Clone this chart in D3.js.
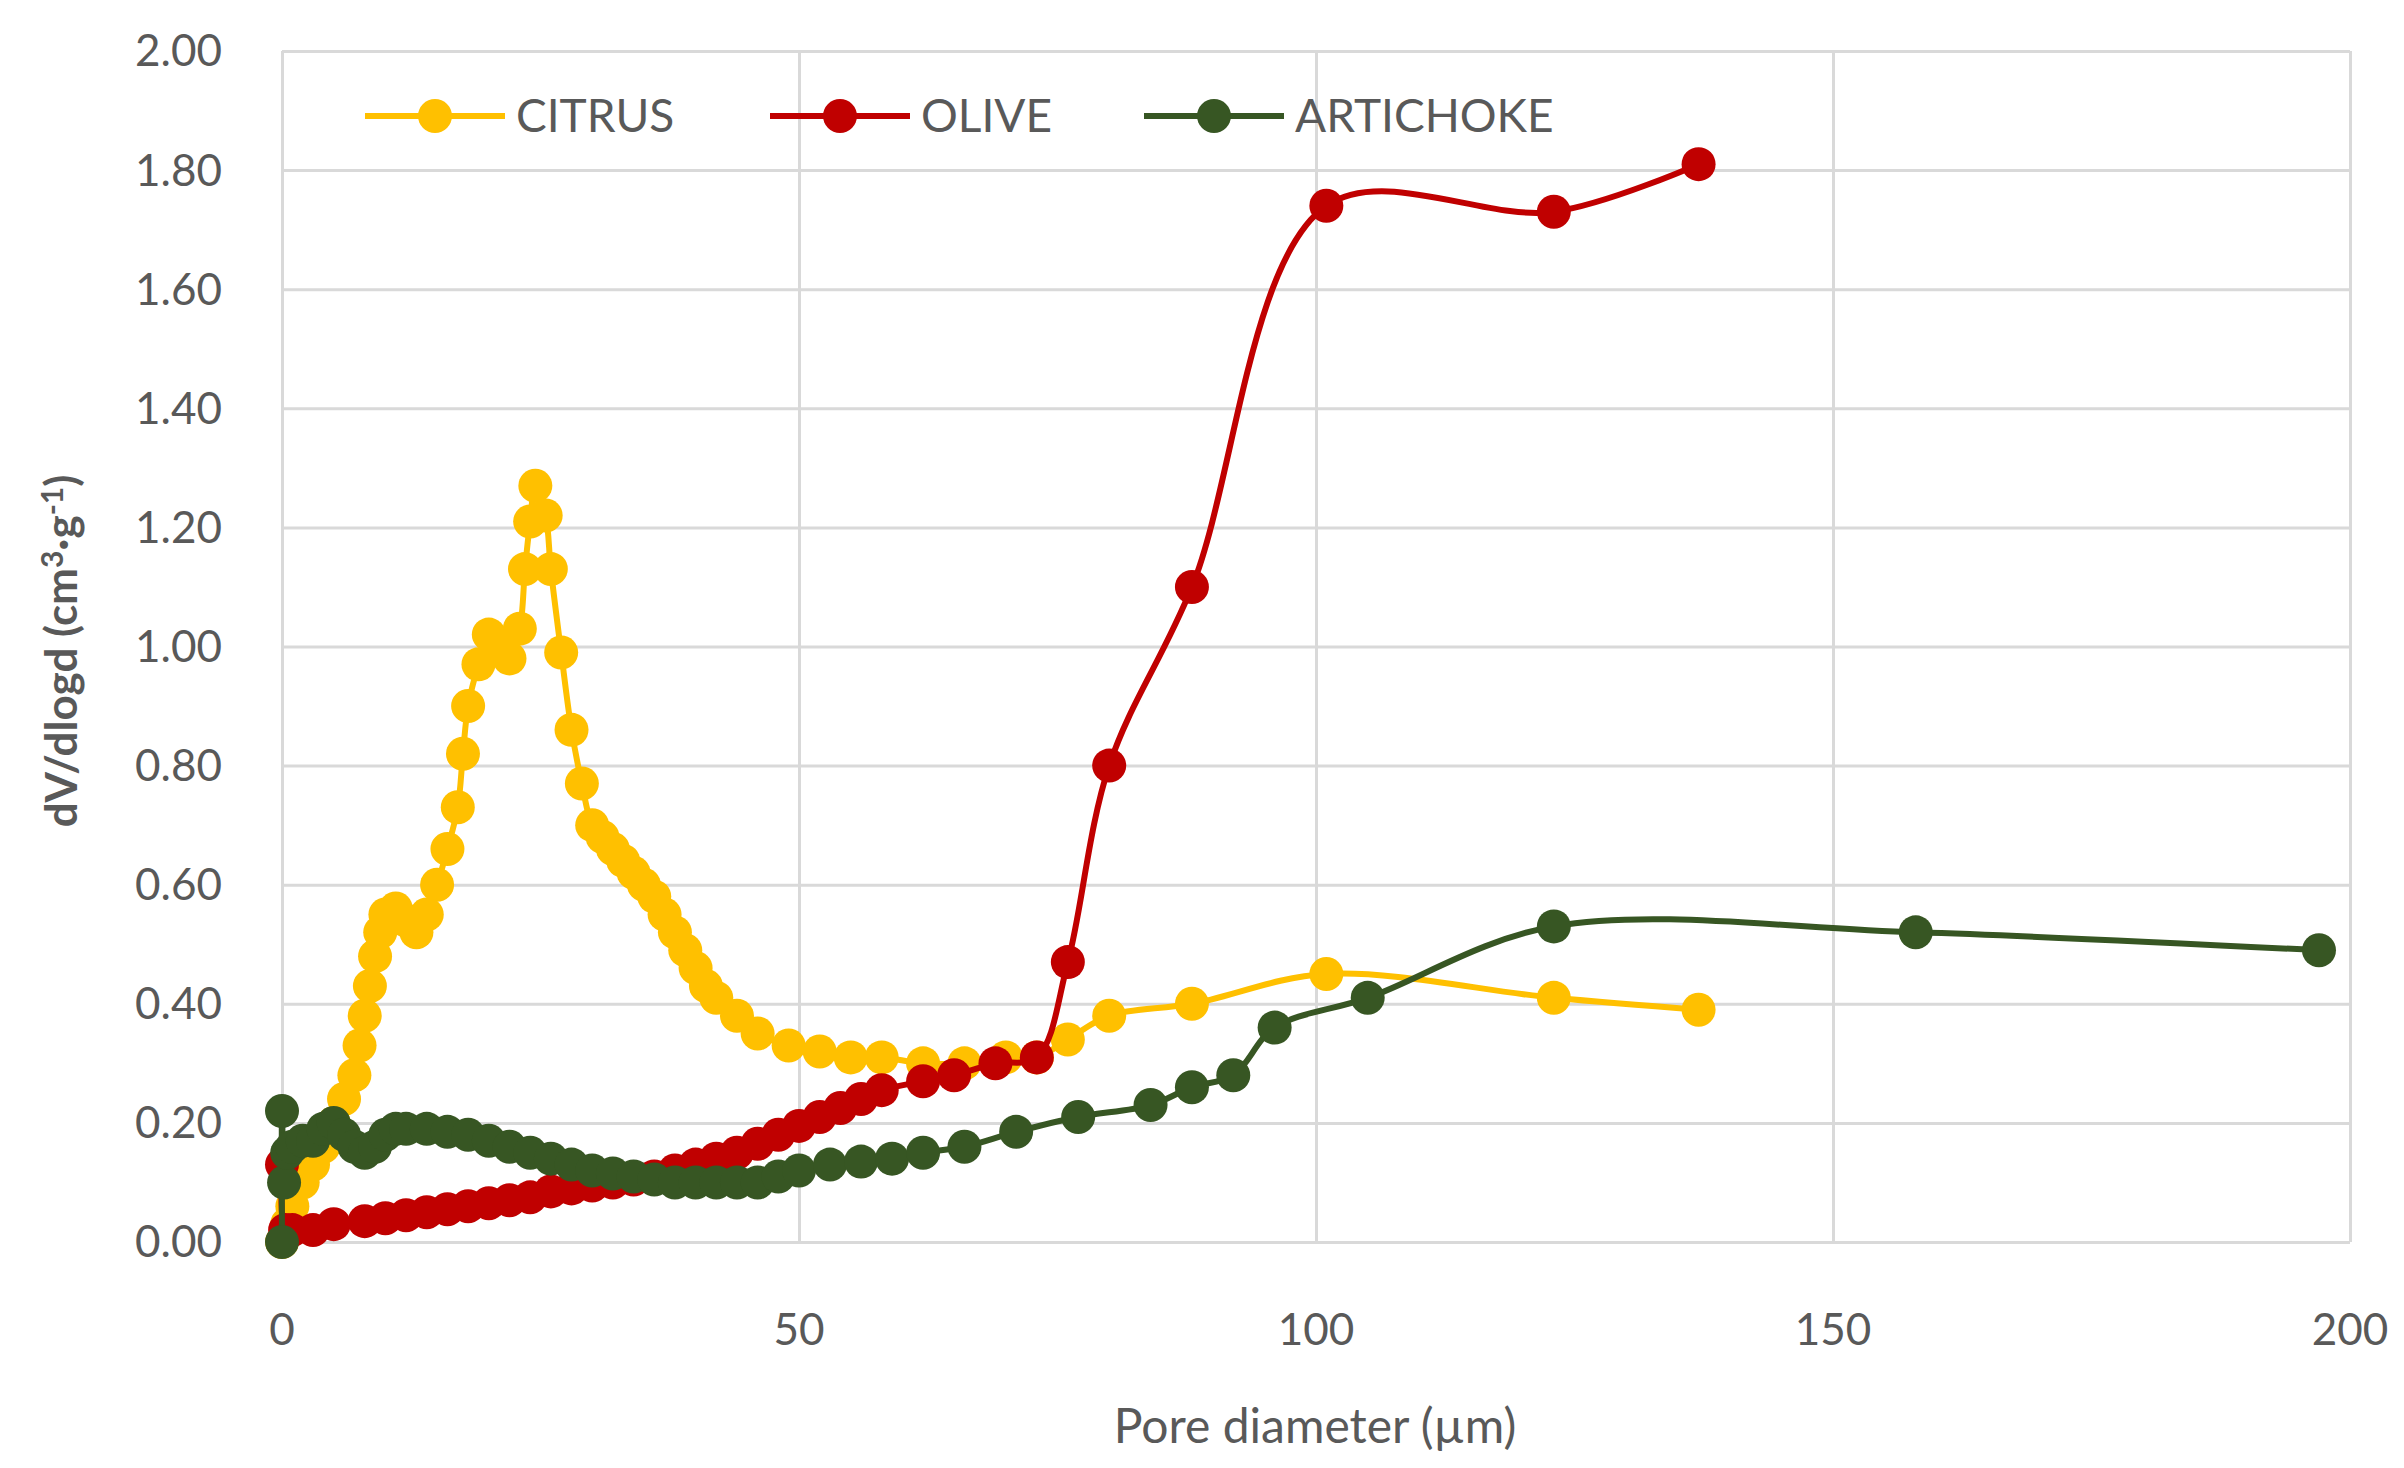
<!DOCTYPE html>
<html>
<head>
<meta charset="utf-8">
<script src="https://cdn.jsdelivr.net/npm/d3@7"></script>
<style>
  body { margin: 0; background: #fff; }
  text { font-family: Lato, "Open Sans", sans-serif; fill: #595959; }
</style>
</head>
<body>
<svg id="chart" width="2404" height="1468"></svg>
<script>
// data
const citrusX = [0,0.5,1,2,3,4,5,6,7,7.5,8,8.5,9,9.5,10,11,12,13,14,15,16,17,17.5,18,19,20,21,22,23,23.5,24,24.5,25.5,26,27,28,29,30,31,32,33,34,35,36,37,38,39,40,41,42,44,46,49,52,55,58,62,66,70,73,76,80,88,101,123,137];
const citrusY = [0,0.03,0.06,0.1,0.13,0.16,0.2,0.24,0.28,0.33,0.38,0.43,0.48,0.52,0.55,0.56,0.54,0.52,0.55,0.6,0.66,0.73,0.82,0.9,0.97,1.02,1.0,0.98,1.03,1.13,1.21,1.27,1.22,1.13,0.99,0.86,0.77,0.7,0.68,0.66,0.64,0.62,0.6,0.58,0.55,0.52,0.49,0.46,0.43,0.41,0.38,0.35,0.33,0.32,0.31,0.31,0.3,0.3,0.31,0.31,0.34,0.38,0.40,0.45,0.41,0.39];
const oliveX = [0,0.3,1,3,5,8,10,12,14,16,18,20,22,24,26,28,30,32,34,36,38,40,42,44,46,48,50,52,54,56,58,62,65,69,73,76,80,88,101,123,137];
const oliveY = [0.13,0.02,0.02,0.02,0.03,0.035,0.04,0.045,0.05,0.055,0.06,0.065,0.07,0.075,0.085,0.09,0.095,0.1,0.105,0.11,0.12,0.13,0.14,0.15,0.165,0.18,0.195,0.21,0.225,0.24,0.255,0.27,0.28,0.3,0.31,0.47,0.80,1.10,1.74,1.73,1.81];
const artiX = [0,0,0.2,0.5,1,2,3,4,5,6,7,8,9,10,11,12,14,16,18,20,22,24,26,28,30,32,34,36,38,40,42,44,46,48,50,53,56,59,62,66,71,77,84,88,92,96,105,123,158,197];
const artiY = [0,0.22,0.1,0.15,0.16,0.17,0.17,0.19,0.2,0.18,0.16,0.15,0.16,0.18,0.19,0.19,0.19,0.185,0.18,0.17,0.16,0.15,0.14,0.13,0.12,0.115,0.11,0.105,0.1,0.1,0.1,0.1,0.1,0.11,0.12,0.13,0.135,0.14,0.15,0.16,0.185,0.21,0.23,0.26,0.28,0.36,0.41,0.53,0.52,0.49];
const seriesNames = ['CITRUS', 'OLIVE', 'ARTICHOKE'];
const seriesColors = ['#FFC000', '#C00000', '#375623'];
const xTicks = [0, 50, 100, 150, 200];
const yTicks = [0, 0.2, 0.4, 0.6, 0.8, 1.0, 1.2, 1.4, 1.6, 1.8, 2.0];

const series = [
  d3.zip(citrusX, citrusY),
  d3.zip(oliveX, oliveY),
  d3.zip(artiX, artiY),
];

const svg = d3.select('#chart');
const plot = { left: 282, right: 2350, top: 51, bottom: 1242 };

const x = d3.scaleLinear().domain([0, 200]).range([plot.left, plot.right]);
const y = d3.scaleLinear().domain([0, 2]).range([plot.bottom, plot.top]);

// gridlines
svg.append('g')
  .attr('transform', `translate(0,${plot.bottom})`)
  .call(d3.axisBottom(x).tickValues(xTicks).tickSize(-(plot.bottom - plot.top)).tickFormat(''))
  .call(g => g.select('.domain').remove())
  .selectAll('line').attr('stroke', '#d9d9d9').attr('stroke-width', 3);
svg.append('g')
  .attr('transform', `translate(${plot.left},0)`)
  .call(d3.axisLeft(y).tickValues(yTicks).tickSize(-(plot.right - plot.left)).tickFormat(''))
  .call(g => g.select('.domain').remove())
  .selectAll('line').attr('stroke', '#d9d9d9').attr('stroke-width', 3);

// tick labels
svg.append('g').selectAll('text').data(yTicks).join('text')
  .attr('x', 222).attr('y', d => y(d)).attr('dy', '0.35em')
  .attr('text-anchor', 'end').style('font-size', '44px')
  .text(d => d.toFixed(2));
svg.append('g').selectAll('text').data(xTicks).join('text')
  .attr('x', d => x(d)).attr('y', 1330).attr('dy', '0.35em')
  .attr('text-anchor', 'middle').style('font-size', '44px')
  .text(d => d);

// axis titles
svg.append('text').attr('x', 1315).attr('y', 1426).attr('dy', '0.35em')
  .attr('text-anchor', 'middle').style('font-size', '48px')
  .text('Pore diameter (µm)');
const yt = svg.append('text')
  .attr('transform', 'translate(62,651) rotate(-90)')
  .attr('dy', '0.35em').attr('text-anchor', 'middle')
  .style('font-size', '44px').style('font-weight', 'bold');
yt.append('tspan').text('dV/dlogd (cm');
yt.append('tspan').attr('dy', '-14').style('font-size', '30px').text('3');
yt.append('tspan').attr('dy', '14').text('·g');
yt.append('tspan').attr('dy', '-14').style('font-size', '30px').text('-1');
yt.append('tspan').attr('dy', '14').text(')');

// lines and markers
const line = d3.line().x(d => x(d[0])).y(d => y(d[1])).curve(d3.curveCatmullRom.alpha(0.5));
series.forEach((pts, i) => {
  const g = svg.append('g');
  g.append('path').datum(pts).attr('d', line)
    .attr('fill', 'none').attr('stroke', seriesColors[i]).attr('stroke-width', 6);
  g.selectAll('circle').data(pts).join('circle')
    .attr('cx', d => x(d[0])).attr('cy', d => y(d[1])).attr('r', 17)
    .attr('fill', seriesColors[i]);
});

// legend
const legX = [365, 770, 1144];
seriesNames.forEach((name, i) => {
  const g = svg.append('g').attr('transform', `translate(${legX[i]},116)`);
  g.append('line').attr('x1', 0).attr('x2', 140).attr('stroke', seriesColors[i]).attr('stroke-width', 6);
  g.append('circle').attr('cx', 70).attr('r', 17).attr('fill', seriesColors[i]);
  g.append('text').attr('x', 151).attr('dy', '0.35em').style('font-size', '46px').text(name);
});
</script>
</body>
</html>
